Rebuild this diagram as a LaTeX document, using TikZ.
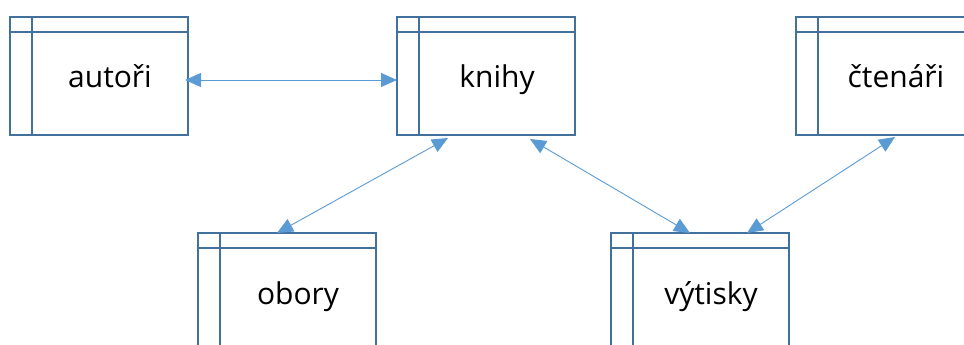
\documentclass[tikz,border=0pt]{standalone}
\usepackage{fontspec}
\setmainfont{Open Sans}
\usetikzlibrary{arrows.meta,calc}
\definecolor{tblline}{HTML}{41719C}
\definecolor{relline}{HTML}{5B9BD5}
\tikzset{
  tblframe/.style={draw=tblline, line width=2.4pt, minimum width=178pt, minimum height=118pt,
    inner sep=0pt, outer sep=0pt, anchor=north west},
  tblrule/.style={draw=tblline, line width=2.4pt},
  tbltext/.style={font=\fontsize{30}{35}\selectfont, text=black, inner sep=0pt, anchor=base},
  rel/.style={draw=relline, line width=0.9pt, {Triangle[length=16pt,width=14pt]}-{Triangle[length=16pt,width=14pt]}}
}
% entity table: name, left x, top y, label
\newcommand\entity[4]{%
  \node[tblframe] (#1) at (#2,#3) {};
  \draw[tblrule] ($(#1.north west)+(0,15)$) -- ($(#1.north east)+(0,15)$);
  \draw[tblrule] ($(#1.north west)+(22,0)$) -- ($(#1.south west)+(22,0)$);
  \node[tbltext] (#1-label) at ($(#1.north west)+(100,71)$) {#4};
}
\begin{document}
\begin{tikzpicture}[x=1pt,y=-1pt]
  \path[use as bounding box] (0,0) rectangle (964,345);
  \clip (0,0) rectangle (964,345);
  \entity{autori}{10}{17}{autoři}
  \entity{knihy}{397}{17}{knihy}
  \entity{ctenari}{796}{17}{čtenáři}
  \entity{obory}{198}{233}{obory}
  \entity{vytisky}{611}{233}{výtisky}
  % relations
  \coordinate (a1) at ($(autori.north east)+(-3,63)$);
  \coordinate (k1) at ($(knihy.north west)+(0,63)$);
  \coordinate (k2) at ($(knihy.south west)+(51,3)$);
  \coordinate (k3) at ($(knihy.south west)+(133,4)$);
  \coordinate (o1) at ($(obory.north west)+(79,0)$);
  \coordinate (v1) at ($(vytisky.north west)+(79,0)$);
  \coordinate (v2) at ($(vytisky.north west)+(136,0)$);
  \coordinate (c1) at ($(ctenari.south west)+(99,2)$);
  \draw[rel] (a1) -- (k1);
  \draw[rel] (k2) -- (o1);
  \draw[rel] (k3) -- (v1);
  \draw[rel] (c1) -- (v2);
\end{tikzpicture}
\end{document}
